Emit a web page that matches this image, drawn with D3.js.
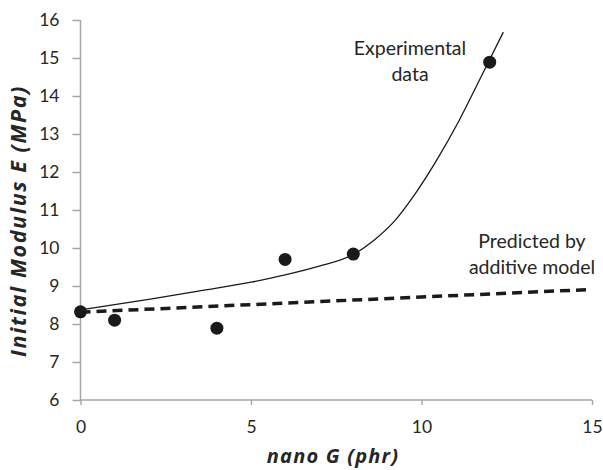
<!DOCTYPE html>
<html lang="en">
<head>
<meta charset="utf-8">
<title>Initial modulus vs nano G</title>
<script src="https://d3js.org/d3.v7.min.js"></script>
<style>
  body { margin: 0; background: #fff; }
  text { font-family: Lato, "Open Sans", sans-serif; fill: #262626; }
  .axis path, .axis line { stroke: #a6a6a6; stroke-width: 1.5px; }
  .axis text { font-size: 17.5px; fill: #262626; font-family: Lato, sans-serif; }
  .title { font-family: "Open Sans", sans-serif; font-weight: bold; font-style: italic; }
  .note { font-size: 19.5px; }
</style>
</head>
<body>
<script>
// measured points
const nanoG = [0, 1, 4, 6, 8, 12];
const modulus = [8.32, 8.1, 7.89, 9.7, 9.84, 14.89];

// experimental trend line
const trendX = [0, 2, 3.5, 5, 6, 7, 8, 8.6, 9.2, 9.7, 10.45, 11.1, 11.7, 12.4];
const trendY = [8.37, 8.65, 8.87, 9.1, 9.29, 9.52, 9.83, 10.2, 10.7, 11.28, 12.32, 13.35, 14.42, 15.68];

// additive model line
const modelX = [0, 15];
const modelY = [8.31, 8.91];

const xTicks = [0, 5, 10, 15];
const yTicks = [6, 7, 8, 9, 10, 11, 12, 13, 14, 15, 16];

const w = 603, h = 470;
const margin = {left: 80.5, right: 11, top: 20, bottom: 70};

const svg = d3.select("body").append("svg")
  .attr("width", w)
  .attr("height", h);

const x = d3.scaleLinear().domain([0, 15]).range([margin.left, w - margin.right]);
const y = d3.scaleLinear().domain([6, 16]).range([h - margin.bottom, margin.top]);

svg.append("g")
  .attr("class", "axis")
  .attr("transform", "translate(0," + y(6) + ")")
  .call(d3.axisBottom(x).tickValues(xTicks).tickSize(5).tickSizeOuter(0).tickPadding(16))
  .call(g => g.select(".domain").attr("d", "M" + x(0) + ",0H" + x(15)));

svg.append("g")
  .attr("class", "axis")
  .attr("transform", "translate(" + x(0) + ",0)")
  .call(d3.axisLeft(y).tickValues(yTicks).tickSize(8).tickSizeOuter(0).tickPadding(13))
  .call(g => g.select(".domain").attr("d", "M0," + y(6) + "V" + y(16)));

const line = d3.line().x(d => x(d[0])).y(d => y(d[1]));

svg.append("path")
  .datum(d3.zip(modelX, modelY))
  .attr("d", line)
  .attr("fill", "none")
  .attr("stroke", "#1a1a1a")
  .attr("stroke-width", 3.5)
  .attr("stroke-dasharray", "10,6");

svg.append("path")
  .datum(d3.zip(trendX, trendY))
  .attr("d", line.curve(d3.curveMonotoneX))
  .attr("fill", "none")
  .attr("stroke", "#1a1a1a")
  .attr("stroke-width", 1.3);

svg.selectAll("circle")
  .data(d3.zip(nanoG, modulus))
  .enter()
  .append("circle")
  .attr("cx", d => x(d[0]))
  .attr("cy", d => y(d[1]))
  .attr("r", 6.5)
  .attr("fill", "#1a1a1a");

// annotations
svg.append("text").attr("class", "note").attr("text-anchor", "middle")
  .attr("x", 410).attr("y", 55).text("Experimental");
svg.append("text").attr("class", "note").attr("text-anchor", "middle")
  .attr("x", 410).attr("y", 81).text("data");
svg.append("text").attr("class", "note").attr("text-anchor", "middle")
  .attr("x", 532).attr("y", 248).text("Predicted by");
svg.append("text").attr("class", "note").attr("text-anchor", "middle")
  .attr("x", 532).attr("y", 274).text("additive model");

// axis titles
svg.append("text").attr("class", "title").attr("text-anchor", "middle")
  .style("font-size", "20px").style("letter-spacing", "1.2px")
  .attr("x", 333).attr("y", 463).text("nano G (phr)");
svg.append("text").attr("class", "title").attr("text-anchor", "middle")
  .style("font-size", "21.5px").style("letter-spacing", "1.6px")
  .attr("transform", "translate(25.5," + 221 + ") rotate(-90)")
  .text("Initial Modulus E (MPa)");
</script>
</body>
</html>
